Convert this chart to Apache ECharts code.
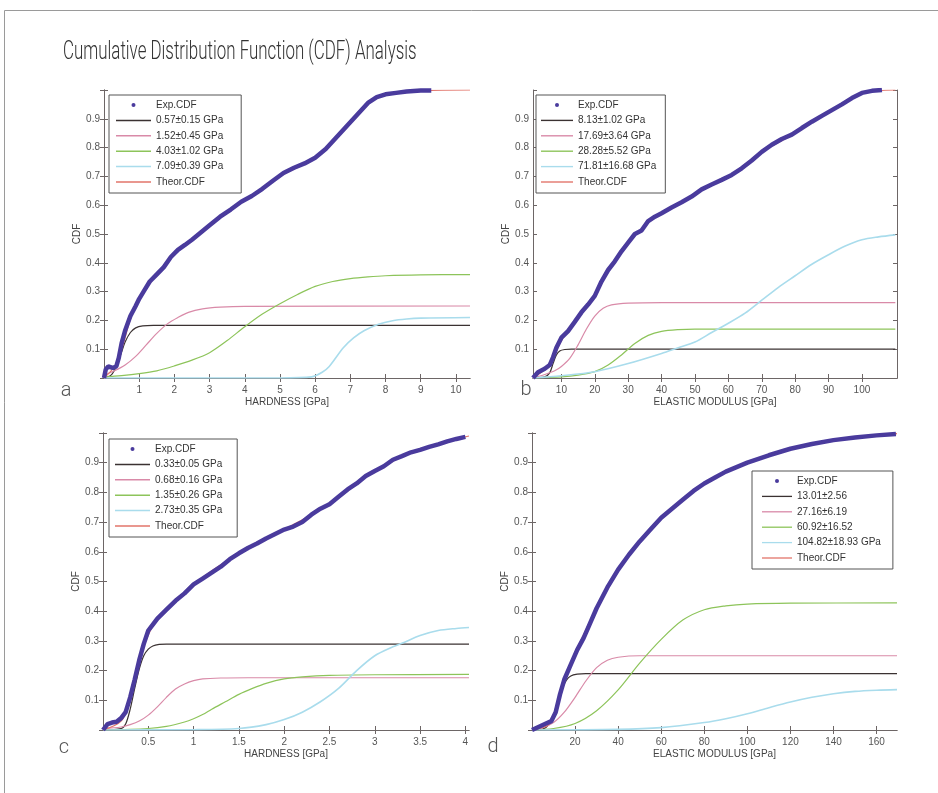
<!DOCTYPE html>
<html>
<head>
<meta charset="utf-8">
<script src="https://cdn.jsdelivr.net/npm/echarts@6/dist/echarts.min.js"></script>
<style>
  html, body { margin: 0; padding: 0; background: #fff; }
  #chart { width: 938px; height: 793px; }
</style>
</head>
<body>
<div id="chart"></div>
<script>
// ---- data ----
var yTicks = [0, 0.1, 0.2, 0.3, 0.4, 0.5, 0.6, 0.7, 0.8, 0.9, 1];
var yLabels = [0.1, 0.2, 0.3, 0.4, 0.5, 0.6, 0.7, 0.8, 0.9];

// a: hardness
var aTicks = [1, 2, 3, 4, 5, 6, 7, 8, 9, 10];
var aNames = ['0.57±0.15 GPa', '1.52±0.45 GPa', '4.03±1.02 GPa', '7.09±0.39 GPa'];
var aExp = [[0,0],[0.05,0.03],[0.12,0.04],[0.25,0.035],[0.35,0.04],[0.42,0.07],[0.5,0.12],[0.6,0.165],[0.75,0.215],[0.9,0.25],[1.0,0.275],[1.15,0.305],[1.3,0.335],[1.5,0.36],[1.7,0.385],[1.9,0.42],[2.1,0.445],[2.3,0.462],[2.5,0.48],[2.75,0.505],[3.0,0.53],[3.3,0.56],[3.6,0.585],[3.9,0.612],[4.2,0.632],[4.5,0.657],[4.8,0.685],[5.1,0.712],[5.4,0.73],[5.7,0.745],[6.0,0.765],[6.3,0.795],[6.6,0.835],[6.9,0.875],[7.2,0.915],[7.5,0.955],[7.75,0.975],[8.0,0.985],[8.3,0.99],[8.6,0.995],[9.0,0.998],[9.3,0.998]];
var aTheor = [[0,0],[0.3,0.04],[0.5,0.1],[0.8,0.22],[1.2,0.31],[2,0.43],[3,0.53],[4,0.615],[5,0.7],[6,0.765],[7,0.885],[7.5,0.955],[8,0.985],[8.5,0.995],[9,0.998],[10.4,1.0]];
var aC1 = [[0,0],[0.2,0.01],[0.35,0.04],[0.5,0.09],[0.6,0.125],[0.75,0.158],[0.9,0.174],[1.1,0.181],[1.4,0.183],[10.4,0.183]];
var aC2 = [[0,0.01],[0.3,0.025],[0.6,0.045],[0.9,0.075],[1.2,0.115],[1.5,0.155],[1.8,0.188],[2.1,0.21],[2.4,0.228],[2.8,0.24],[3.3,0.246],[4,0.249],[10.4,0.25]];
var aC3 = [[0,0.003],[0.5,0.008],[1,0.015],[1.5,0.025],[2,0.042],[2.5,0.062],[3,0.088],[3.5,0.13],[4,0.178],[4.5,0.222],[5,0.258],[5.5,0.29],[6,0.318],[6.5,0.335],[7,0.345],[7.5,0.351],[8,0.355],[9,0.358],[10.4,0.359]];
var aC4 = [[0,0],[5,0],[5.9,0.004],[6.2,0.02],[6.4,0.04],[6.8,0.105],[7.1,0.14],[7.4,0.165],[7.8,0.187],[8.2,0.199],[8.6,0.205],[9,0.208],[10.4,0.21]];

// b: elastic modulus
var bTicks = [10, 20, 30, 40, 50, 60, 70, 80, 90, 100];
var bNames = ['8.13±1.02 GPa', '17.69±3.64 GPa', '28.28±5.52 GPa', '71.81±16.68 GPa'];
var bExp = [[1.5,0],[3,0.02],[5,0.032],[6.5,0.045],[7.5,0.072],[8.5,0.105],[10,0.14],[12,0.163],[14,0.195],[16,0.228],[18,0.255],[20,0.285],[22,0.335],[24,0.375],[26,0.405],[28,0.44],[30,0.47],[32,0.5],[34,0.512],[36,0.545],[38,0.56],[40,0.572],[43,0.592],[46,0.61],[49,0.63],[52,0.655],[55,0.672],[58,0.688],[61,0.705],[64,0.728],[67,0.755],[70,0.785],[73,0.81],[76,0.83],[79,0.845],[82,0.868],[85,0.89],[88,0.91],[91,0.93],[94,0.95],[97,0.972],[100,0.99],[103,0.997],[106,1.0]];
var bTheor = [[1.5,0],[5,0.03],[8,0.08],[10,0.13],[15,0.21],[20,0.29],[25,0.39],[30,0.47],[35,0.53],[40,0.57],[50,0.64],[60,0.7],[70,0.785],[80,0.85],[90,0.925],[100,0.99],[105,0.998],[110,1]];
var bC1 = [[1.5,0],[5,0.004],[6.5,0.018],[7.5,0.05],[8.5,0.08],[9.5,0.094],[11,0.099],[13,0.1],[110,0.1]];
var bC2 = [[1.5,0],[5,0.012],[8,0.025],[10,0.04],[12.5,0.068],[15,0.115],[17.5,0.17],[20,0.215],[22.5,0.242],[25,0.254],[30,0.26],[40,0.262],[110,0.262]];
var bC3 = [[1.5,0],[10,0.004],[15,0.01],[20,0.022],[24,0.045],[28,0.08],[32,0.12],[36,0.148],[40,0.162],[45,0.168],[50,0.17],[110,0.17]];
var bC4 = [[1.5,0],[10,0.008],[20,0.022],[30,0.05],[40,0.085],[45,0.105],[50,0.125],[55,0.158],[60,0.19],[65,0.225],[70,0.27],[75,0.315],[80,0.355],[85,0.395],[90,0.428],[95,0.458],[100,0.48],[105,0.49],[110,0.497]];

// c: hardness
var cTicks = [0.5, 1, 1.5, 2, 2.5, 3, 3.5, 4];
var cNames = ['0.33±0.05 GPa', '0.68±0.16 GPa', '1.35±0.26 GPa', '2.73±0.35 GPa'];
var cExp = [[0,0],[0.05,0.02],[0.1,0.025],[0.15,0.028],[0.2,0.04],[0.25,0.06],[0.3,0.11],[0.35,0.17],[0.4,0.235],[0.45,0.29],[0.5,0.335],[0.55,0.355],[0.6,0.375],[0.7,0.405],[0.8,0.435],[0.9,0.46],[1.0,0.49],[1.1,0.51],[1.2,0.53],[1.3,0.55],[1.4,0.575],[1.5,0.595],[1.6,0.613],[1.7,0.628],[1.8,0.645],[1.9,0.66],[2.0,0.675],[2.1,0.685],[2.2,0.7],[2.3,0.725],[2.4,0.745],[2.5,0.76],[2.6,0.785],[2.7,0.81],[2.8,0.83],[2.9,0.855],[3.0,0.872],[3.1,0.888],[3.2,0.91],[3.3,0.922],[3.4,0.935],[3.5,0.943],[3.6,0.953],[3.7,0.962],[3.8,0.972],[3.9,0.98],[4.0,0.987]];
var cTheor = [[0,0],[0.2,0.03],[0.3,0.1],[0.4,0.23],[0.5,0.32],[0.6,0.37],[1,0.49],[1.5,0.595],[2,0.675],[2.5,0.76],[3,0.872],[3.5,0.945],[4.04,0.99]];
var cC1 = [[0,0],[0.2,0.005],[0.25,0.02],[0.3,0.07],[0.35,0.14],[0.4,0.205],[0.45,0.25],[0.5,0.272],[0.55,0.283],[0.62,0.288],[0.7,0.289],[4.04,0.289]];
var cC2 = [[0,0.005],[0.2,0.01],[0.3,0.018],[0.4,0.03],[0.5,0.05],[0.6,0.078],[0.7,0.11],[0.8,0.138],[0.9,0.155],[1.0,0.166],[1.1,0.172],[1.3,0.175],[1.6,0.176],[4.04,0.176]];
var cC3 = [[0,0],[0.5,0.005],[0.7,0.012],[0.9,0.027],[1.0,0.038],[1.1,0.052],[1.2,0.07],[1.35,0.095],[1.5,0.12],[1.65,0.14],[1.8,0.157],[2.0,0.172],[2.2,0.179],[2.5,0.184],[3,0.186],[4.04,0.187]];
var cC4 = [[0,0],[1,0.001],[1.5,0.005],[1.8,0.018],[2.0,0.035],[2.2,0.06],[2.4,0.095],[2.6,0.14],[2.8,0.2],[3.0,0.25],[3.2,0.28],[3.3,0.292],[3.5,0.318],[3.7,0.335],[3.9,0.342],[4.04,0.345]];

// d: elastic modulus
var dTicks = [20, 40, 60, 80, 100, 120, 140, 160];
var dNames = ['13.01±2.56', '27.16±6.19', '60.92±16.52', '104.82±18.93 GPa'];
var dExp = [[0,0],[3,0.01],[6,0.02],[9,0.03],[11,0.06],[13,0.12],[15,0.17],[18,0.22],[21,0.27],[24,0.31],[27,0.36],[30,0.41],[35,0.48],[40,0.54],[45,0.59],[50,0.635],[55,0.675],[60,0.715],[65,0.745],[70,0.775],[75,0.805],[80,0.83],[85,0.85],[90,0.87],[95,0.885],[100,0.9],[110,0.925],[120,0.947],[130,0.963],[140,0.976],[150,0.985],[160,0.992],[169,0.997]];
var dTheor = [[0,0],[8,0.02],[12,0.09],[16,0.19],[20,0.26],[30,0.41],[40,0.54],[60,0.715],[80,0.83],[100,0.9],[120,0.947],[140,0.976],[169.5,0.998]];
var dC1 = [[0,0],[5,0.003],[8,0.02],[10,0.05],[12,0.1],[14,0.14],[16,0.168],[18,0.182],[21,0.188],[25,0.19],[169.5,0.19]];
var dC2 = [[0,0],[5,0.008],[10,0.025],[15,0.06],[20,0.11],[25,0.165],[30,0.21],[35,0.235],[40,0.245],[50,0.25],[169.5,0.25]];
var dC3 = [[0,0],[10,0.005],[20,0.022],[30,0.065],[40,0.135],[50,0.225],[60,0.305],[70,0.37],[80,0.405],[90,0.418],[100,0.424],[120,0.427],[169.5,0.428]];
var dC4 = [[0,0],[40,0.002],[60,0.008],[80,0.025],[90,0.038],[100,0.055],[110,0.075],[120,0.094],[130,0.11],[140,0.122],[150,0.13],[160,0.134],[169.5,0.136]];

var compColors = ['#3b3232', '#d98aa8', '#8dc45a', '#a9dcec'];
var expColor = '#4a3b9d';
var theorColor = '#e2746a';
var axisColor = '#6d6666';
var lineIcon = 'path://M0 0H30V1.3H0Z';

var panels = [
    {grid: {left: 104, top: 90, width: 366, height: 288}, min: 0, max: 10.4, ticks: aTicks, xName: 'HARDNESS [GPa]',
     names: aNames, comps: [aC1, aC2, aC3, aC4], exp: aExp, theor: aTheor,
     legend: {left: 109, top: 95, itemWidth: 35, padding: [4, 18, 5, 7]}},
    {grid: {left: 533, top: 90, width: 364, height: 288}, min: 1.5, max: 110.5, ticks: bTicks, xName: 'ELASTIC MODULUS [GPa]',
     names: bNames, comps: [bC1, bC2, bC3, bC4], exp: bExp, theor: bTheor,
     legend: {left: 536, top: 95, itemWidth: 32, padding: [4, 9, 5, 5]}},
    {grid: {left: 103, top: 433, width: 366, height: 297}, min: 0, max: 4.04, ticks: cTicks, xName: 'HARDNESS [GPa]',
     names: cNames, comps: [cC1, cC2, cC3, cC4], exp: cExp, theor: cTheor,
     legend: {left: 109, top: 439, itemWidth: 35, padding: [4, 15, 5, 6]}},
    {grid: {left: 532, top: 433, width: 365, height: 297}, min: 0, max: 169.5, ticks: dTicks, xName: 'ELASTIC MODULUS [GPa]',
     names: dNames, comps: [dC1, dC2, dC3, dC4], exp: dExp, theor: dTheor,
     legend: {left: 752, top: 471, itemWidth: 30, padding: [4, 12, 5, 10]}}
];

var grids = [], xAxes = [], yAxes = [], series = [], legends = [];
var labelStyle = {fontFamily: 'Liberation Sans', fontSize: 10, color: '#555'};

panels.forEach(function (p, i) {
    grids.push(p.grid);
    var line = {lineStyle: {color: axisColor, width: 1}};
    // bottom + mirrored top x axis
    xAxes.push({
        type: 'value', gridIndex: i, min: p.min, max: p.max, position: 'bottom',
        axisLine: line, splitLine: {show: false},
        axisTick: {inside: true, length: 4, lineStyle: {color: axisColor}, customValues: p.ticks},
        axisLabel: Object.assign({margin: 7, customValues: p.ticks}, labelStyle),
        name: p.xName, nameLocation: 'middle', nameGap: 19,
        nameTextStyle: {fontFamily: 'Liberation Sans', fontSize: 10, color: '#444'}
    });
    xAxes.push({
        type: 'value', gridIndex: i, min: p.min, max: p.max, position: 'top',
        axisLine: line, splitLine: {show: false}, axisLabel: {show: false},
        axisTick: {inside: true, length: 4, lineStyle: {color: axisColor}, customValues: p.ticks}
    });
    // left + mirrored right y axis
    yAxes.push({
        type: 'value', gridIndex: i, min: 0, max: 1, position: 'left',
        axisLine: line, splitLine: {show: false},
        axisTick: {inside: true, length: 4, lineStyle: {color: axisColor}, customValues: yTicks},
        axisLabel: Object.assign({margin: 4, customValues: yLabels}, labelStyle),
        name: 'CDF', nameLocation: 'middle', nameGap: 20,
        nameTextStyle: {fontFamily: 'Liberation Sans', fontSize: 10, color: '#444'}
    });
    yAxes.push({
        type: 'value', gridIndex: i, min: 0, max: 1, position: 'right',
        axisLine: line, splitLine: {show: false}, axisLabel: {show: false},
        axisTick: {inside: true, length: 4, lineStyle: {color: axisColor}, customValues: yTicks}
    });

    var xi = i * 2, yi = i * 2;
    p.comps.forEach(function (c, k) {
        series.push({
            name: p.names[k], type: 'line', xAxisIndex: xi, yAxisIndex: yi, data: c,
            smooth: 0.3, symbol: 'none', silent: true,
            itemStyle: {color: compColors[k]},
            lineStyle: {color: compColors[k], width: k === 3 ? 1.6 : 1.2}
        });
    });
    series.push({
        name: 'Theor.CDF', type: 'line', xAxisIndex: xi, yAxisIndex: yi, data: p.theor,
        smooth: 0.3, symbol: 'none', silent: true,
        itemStyle: {color: theorColor}, lineStyle: {color: theorColor, width: 1.2}
    });
    series.push({
        name: 'Exp.CDF', type: 'line', xAxisIndex: xi, yAxisIndex: yi, data: p.exp,
        symbol: 'none', silent: true,
        itemStyle: {color: expColor}, lineStyle: {color: expColor, width: 4.5}
    });

    var items = [{name: 'Exp.CDF', icon: 'circle'}];
    p.names.concat(['Theor.CDF']).forEach(function (n) {
        items.push({name: n, icon: lineIcon});
    });
    legends.push({
        orient: 'vertical', left: p.legend.left, top: p.legend.top,
        padding: p.legend.padding, itemWidth: p.legend.itemWidth, itemHeight: 4, itemGap: 3.4,
        backgroundColor: '#fff', borderColor: '#555', borderWidth: 1, selectedMode: false,
        textStyle: {fontFamily: 'Liberation Sans', fontSize: 10, color: '#333', lineHeight: 12},
        data: items
    });
});

var letters = [['a', 66, 391], ['b', 526, 390], ['c', 64, 748], ['d', 493, 747]];
var graphics = [
    {type: 'rect', shape: {x: 4.5, y: 10.5, width: 1000, height: 1000}, style: {fill: 'none', stroke: '#9a9a9a', lineWidth: 1}, silent: true},
    {type: 'text', x: 63, y: 52, scaleX: 0.65, style: {text: 'Cumulative Distribution Function (CDF) Analysis',
        fontFamily: 'Roboto', fontWeight: 300, fontSize: 26, fill: '#333', align: 'left', verticalAlign: 'middle'}}
];
letters.forEach(function (l) {
    graphics.push({type: 'text', x: l[1], y: l[2], style: {text: l[0], fontFamily: 'Roboto', fontWeight: 300,
        fontSize: 20, fill: '#555', align: 'center', verticalAlign: 'middle'}});
});

var myChart = echarts.init(document.getElementById('chart'), null, {renderer: 'canvas'});
myChart.setOption({
    animation: false,
    backgroundColor: '#fff',
    grid: grids,
    xAxis: xAxes,
    yAxis: yAxes,
    legend: legends,
    series: series,
    graphic: graphics
});
</script>
</body>
</html>
